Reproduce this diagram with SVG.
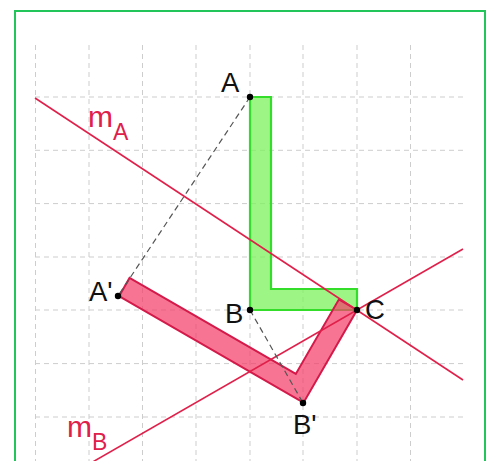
<svg xmlns="http://www.w3.org/2000/svg" width="497" height="461" viewBox="0 0 497 461">
<style>
.grid line{stroke:#cdcdcd;stroke-width:1;stroke-dasharray:5 4}
.mirror{stroke:#e0204a;stroke-width:1.6;fill:none}
.seg{stroke:#555;stroke-width:1.2;stroke-dasharray:6 4;fill:none}
.pt{fill:#000}
.lbl{font-family:"Liberation Sans",Arial,sans-serif;font-size:27.5px;fill:#111}
.mlbl{font-family:"Liberation Sans",Arial,sans-serif;fill:#e0204a}
</style>
<rect x="0" y="0" width="497" height="461" fill="#fff"/>
<rect x="15" y="11" width="470" height="470" fill="none" stroke="#22c55a" stroke-width="2"/>
<g class="grid" id="grid">
<line x1="35.5" y1="45" x2="35.5" y2="461"/>
<line x1="89" y1="45" x2="89" y2="461"/>
<line x1="142.5" y1="45" x2="142.5" y2="461"/>
<line x1="196" y1="45" x2="196" y2="461"/>
<line x1="250" y1="45" x2="250" y2="461"/>
<line x1="303" y1="45" x2="303" y2="461"/>
<line x1="357" y1="45" x2="357" y2="461"/>
<line x1="410.5" y1="45" x2="410.5" y2="461"/>
<line x1="35" y1="97" x2="463" y2="97"/>
<line x1="35" y1="150.3" x2="463" y2="150.3"/>
<line x1="35" y1="203.6" x2="463" y2="203.6"/>
<line x1="35" y1="257" x2="463" y2="257"/>
<line x1="35" y1="310" x2="463" y2="310"/>
<line x1="35" y1="363.6" x2="463" y2="363.6"/>
<line x1="35" y1="417" x2="463" y2="417"/>
</g>
<g id="shape-original">
<polygon points="250,97 271,97 271,289 357,289 357,310 250,310" fill="#7cf25e" fill-opacity="0.75" stroke="#33dd2a" stroke-width="2.2"/>
</g>
<g id="shape-image">
<polygon points="250,97 271,97 271,289 357,289 357,310 250,310" transform="rotate(-60 357 310)" fill="#f4406a" fill-opacity="0.72" stroke="#d41a4a" stroke-width="2"/>
</g>
<g id="connectors">
<line class="mirror" id="mA" x1="35" y1="98" x2="463" y2="380"/>
<line class="mirror" id="mB" x1="90" y1="463.5" x2="463" y2="249"/>
<line class="seg" x1="250" y1="97" x2="118" y2="296"/>
<line class="seg" x1="250" y1="310" x2="303" y2="403"/>
</g>
<g id="point-A"><circle class="pt" cx="250" cy="97" r="3.2"/><text class="lbl" x="221" y="92">A</text></g>
<g id="point-B"><circle class="pt" cx="250" cy="310" r="3.2"/><text class="lbl" x="225" y="323">B</text></g>
<g id="point-C"><circle class="pt" cx="357" cy="310" r="3.2"/><text class="lbl" x="365" y="319">C</text></g>
<g id="point-A1"><circle class="pt" cx="118" cy="296" r="3.2"/><text class="lbl" x="89" y="301">A'</text></g>
<g id="point-B1"><circle class="pt" cx="303" cy="403" r="3.2"/><text class="lbl" x="293" y="434">B'</text></g>
<g id="label-mA"><text class="mlbl" x="88" y="127" font-size="30">m<tspan font-size="23" dy="13">A</tspan></text></g>
<g id="label-mB"><text class="mlbl" x="67" y="437" font-size="30">m<tspan font-size="23" dy="13">B</tspan></text></g>
</svg>
